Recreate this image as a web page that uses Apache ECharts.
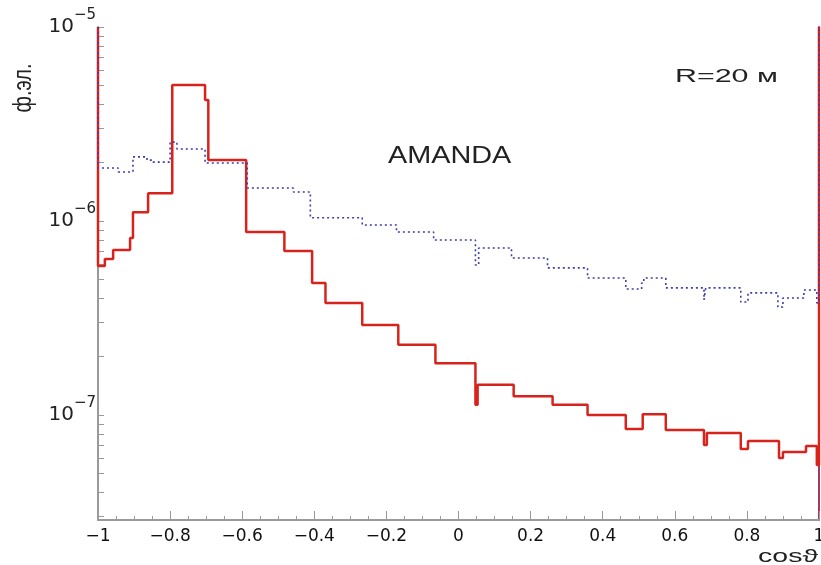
<!DOCTYPE html>
<html><head><meta charset="utf-8">
<script src="https://cdn.jsdelivr.net/npm/echarts@6/dist/echarts.min.js"></script>
<style>html,body{margin:0;padding:0;background:#fff}#c{width:821px;height:565px}</style>
</head><body><div id="c"></div>
<script>
// ---- data ----
const xTickLabels = ['−1', '−0.8', '−0.6', '−0.4', '−0.2', '0', '0.2', '0.4', '0.6', '0.8', '1'];
const yTickExponents = [-7, -6, -5];
const Y_TOP = 1e-5;
const Y_BOTTOM = 2.875e-8;

// red histogram (solid)
const redEdges = [-1, -0.981, -0.958, -0.911, -0.903, -0.861, -0.794, -0.703, -0.694, -0.589, -0.483,
  -0.406, -0.369, -0.267, -0.167, -0.064, 0.047, 0.053, 0.153, 0.261, 0.358, 0.464, 0.511, 0.575,
  0.681, 0.689, 0.783, 0.803, 0.889, 0.900, 0.964, 0.994, 1];
const redValues = [5.86e-7, 6.37e-7, 7.09e-7, 8.17e-7, 1.11e-6, 1.39e-6, 5.02e-6, 4.21e-6, 2.06e-6,
  8.78e-7, 7.0e-7, 4.79e-7, 3.78e-7, 2.91e-7, 2.30e-7, 1.85e-7, 1.13e-7, 1.43e-7, 1.25e-7, 1.13e-7,
  1.0e-7, 8.47e-8, 1.01e-7, 8.37e-8, 7.0e-8, 8.07e-8, 6.68e-8, 7.35e-8, 6.0e-8, 6.45e-8, 6.92e-8, 5.52e-8];

// blue histogram (dotted)
const blueEdges = [-1, -0.944, -0.903, -0.864, -0.850, -0.800, -0.781, -0.703, -0.586, -0.458, -0.411,
  -0.267, -0.172, -0.069, 0.047, 0.056, 0.147, 0.247, 0.358, 0.464, 0.508, 0.514, 0.575, 0.681,
  0.686, 0.783, 0.803, 0.886, 0.900, 0.958, 0.994, 1];
const blueValues = [1.875e-6, 1.79e-6, 2.14e-6, 2.06e-6, 2.01e-6, 2.55e-6, 2.35e-6, 1.99e-6, 1.48e-6,
  1.41e-6, 1.04e-6, 9.54e-7, 8.78e-7, 7.98e-7, 5.93e-7, 7.26e-7, 6.45e-7, 5.73e-7, 5.08e-7, 4.46e-7,
  4.79e-7, 5.08e-7, 4.52e-7, 3.92e-7, 4.52e-7, 3.82e-7, 4.26e-7, 3.60e-7, 4.01e-7, 4.41e-7, 3.78e-7];

// ---- build ----
const LT = Math.log10(Y_TOP), LB = Math.log10(Y_BOTTOM);
function stepPoints(edges, values) {
  const pts = [[edges[0], LT]];
  for (let i = 0; i < values.length; i++) {
    const ly = Math.log10(values[i]);
    pts.push([edges[i], ly]);
    pts.push([edges[i + 1], ly]);
  }
  pts.push([edges[edges.length - 1], LT]);
  return pts;
}
const minorTicks = [];
for (let n = -8; n <= -6; n++) {
  for (let k = 1; k <= 9; k++) {
    const l = Math.log10(k * Math.pow(10, n));
    if (l >= LB && l <= LT) minorTicks.push(l);
  }
}
minorTicks.push(LT);

const chart = echarts.init(document.getElementById('c'));
const FONT = 'DejaVu Sans';
chart.setOption({
  animation: false,
  backgroundColor: '#fff',
  grid: { left: 98, right: 2, top: 27, bottom: 45, containLabel: false, outerBoundsMode: 'none' },
  xAxis: {
    type: 'value', min: -1, max: 1, interval: 0.2,
    axisLine: { show: true, onZero: false, lineStyle: { color: '#9a9a9a', width: 2 } },
    axisTick: { show: true, inside: true, length: 9, lineStyle: { color: '#9a9a9a', width: 1 } },
    minorTick: { show: true, splitNumber: 4, length: 4, lineStyle: { color: '#9a9a9a', width: 1 } },
    splitLine: { show: false },
    axisLabel: {
      margin: 8, color: '#111', fontFamily: FONT, fontSize: 17, hideOverlap: false,
      formatter: v => xTickLabels[Math.round((v + 1) / 0.2)]
    }
  },
  yAxis: [{
    type: 'value', min: LB, max: LT,
    axisLine: { show: true, onZero: false, lineStyle: { color: '#9a9a9a', width: 2 } },
    axisTick: { show: true, inside: true, length: 6, customValues: minorTicks, lineStyle: { color: '#9a9a9a', width: 1 } },
    splitLine: { show: false },
    axisLabel: {
      margin: 2, customValues: yTickExponents,
      formatter: v => '{b|10}{s|−' + Math.abs(Math.round(v)) + '}',
      rich: {
        b: { fontFamily: FONT, fontSize: 20, color: '#222' },
        s: { fontFamily: FONT, fontSize: 15, color: '#222', padding: [0, 0, 24, 0] }
      }
    }
  }, {
    type: 'value', min: LB, max: LT, position: 'right',
    axisLine: { show: true, onZero: false, lineStyle: { color: '#a8365e', width: 2 } },
    axisTick: { show: false }, axisLabel: { show: false }, splitLine: { show: false }
  }],
  series: [{
    name: 'red', type: 'line', data: stepPoints(redEdges, redValues),
    showSymbol: false, symbol: 'none', clip: true,
    lineStyle: { color: '#d8231d', width: 2.5 }, z: 3
  }, {
    name: 'blue', type: 'line', data: stepPoints(blueEdges, blueValues),
    showSymbol: false, symbol: 'none', clip: true,
    lineStyle: { color: '#3d3db0', width: 1.6, type: [2, 3] }, z: 4
  }],
  graphic: [
    { type: 'text', x: 388, y: 156, scaleX: 1.2,
      style: { text: 'AMANDA', font: '24px "Liberation Sans"', fill: '#222', align: 'left', verticalAlign: 'middle' } },
    { type: 'text', x: 675, y: 77, scaleX: 1.6,
      style: { text: 'R=20 м', font: '19px "Liberation Sans"', fill: '#222', align: 'left', verticalAlign: 'middle' } },
    { type: 'text', x: 818, y: 557, scaleX: 1.5,
      style: { text: 'cosϑ', font: '19px "Liberation Sans"', fill: '#222', align: 'right', verticalAlign: 'middle' } },
    { type: 'text', x: 24, y: 88, rotation: Math.PI / 2, scaleY: 1.3,
      style: { text: 'ф.эл.', font: '20px "Liberation Sans"', fill: '#222', align: 'center', verticalAlign: 'middle' } }
  ]
});
</script></body></html>
